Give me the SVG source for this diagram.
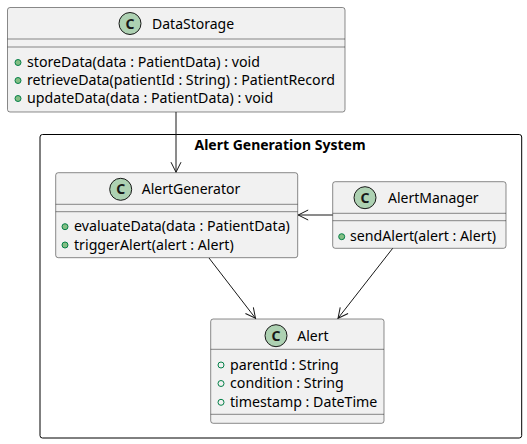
<svg xmlns="http://www.w3.org/2000/svg" width="527" height="444" viewBox="0 0 527 444">
<style>
.box{fill:#F1F1F1;stroke:#181818;stroke-width:0.5}
.sep{stroke:#181818;stroke-width:0.5}
.circ{fill:#ADD1B2;stroke:#181818;stroke-width:1}
.cl{font-family:"Noto Sans",sans-serif;font-size:14px;font-weight:bold;fill:#181818;text-anchor:middle}
.t{font-family:"Noto Sans",sans-serif;font-size:14px;fill:#000}
.m{font-family:"Noto Sans",sans-serif;font-size:14.2px;fill:#000}
.pub{fill:#84BE84;stroke:#038048;stroke-width:1}
.att{fill:none;stroke:#038048;stroke-width:1}
.pkg{fill:none;stroke:#000;stroke-width:1}
.pt{font-family:"Noto Sans",sans-serif;font-size:14px;font-weight:bold;fill:#000;text-anchor:middle}
.edge{stroke:#181818;stroke-width:1;fill:none}
</style>
<defs>
<marker id="arr" viewBox="0 0 12 12" refX="11" refY="6" markerWidth="12" markerHeight="12" markerUnits="userSpaceOnUse" orient="auto">
<polyline points="1,1 11,6 1,11" fill="none" stroke="#181818" stroke-width="1"/>
</marker>
</defs>
<rect width="527" height="444" fill="#FFFFFF"/>
<g id="pkg-alert-generation-system">
<rect class="pkg" x="40" y="134.5" width="481.7" height="303.5" rx="2.5"/>
<text class="pt" x="280" y="150">Alert Generation System</text>
</g>
<g id="node-datastorage">
<rect class="box" x="7.5" y="7.5" width="337.5" height="104.5" rx="2.5"/>
<line class="sep" x1="7.5" y1="39" x2="345" y2="39"/>
<line class="sep" x1="7.5" y1="47" x2="345" y2="47"/>
<circle class="circ" cx="130" cy="23.5" r="11"/>
<text class="cl" x="130" y="28.5">C</text>
<text class="t" x="152" y="28.5">DataStorage</text>
<circle class="pub" cx="18" cy="62.5" r="3"/>
<text class="m" x="27" y="67">storeData(data : PatientData) : void</text>
<circle class="pub" cx="18" cy="80.5" r="3"/>
<text class="m" x="27" y="85">retrieveData(patientId : String) : PatientRecord</text>
<circle class="pub" cx="18" cy="98.5" r="3"/>
<text class="m" x="27" y="103">updateData(data : PatientData) : void</text>
</g>
<g id="node-alertgenerator">
<rect class="box" x="55.7" y="172.7" width="242" height="85" rx="2.5"/>
<line class="sep" x1="55.7" y1="204.3" x2="297.7" y2="204.3"/>
<line class="sep" x1="55.7" y1="211.7" x2="297.7" y2="211.7"/>
<circle class="circ" cx="120.7" cy="189.3" r="11"/>
<text class="cl" x="120.7" y="194.3">C</text>
<text class="t" x="141.7" y="194.3">AlertGenerator</text>
<circle class="pub" cx="65" cy="226.7" r="3"/>
<text class="m" x="74" y="231.2">evaluateData(data : PatientData)</text>
<circle class="pub" cx="65" cy="245" r="3"/>
<text class="m" x="74" y="249.5">triggerAlert(alert : Alert)</text>
</g>
<g id="node-alertmanager">
<rect class="box" x="332.7" y="181.7" width="173.3" height="66.6" rx="2.5"/>
<line class="sep" x1="332.7" y1="213.3" x2="506" y2="213.3"/>
<line class="sep" x1="332.7" y1="220.7" x2="506" y2="220.7"/>
<circle class="circ" cx="365" cy="197.7" r="11"/>
<text class="cl" x="365" y="202.7">C</text>
<text class="t" x="388" y="202.7">AlertManager</text>
<circle class="pub" cx="341.7" cy="236.7" r="3"/>
<text class="m" x="350" y="241.2">sendAlert(alert : Alert)</text>
</g>
<g id="node-alert">
<rect class="box" x="210.7" y="319" width="173.3" height="104.3" rx="2.5"/>
<line class="sep" x1="210.7" y1="349.3" x2="384" y2="349.3"/>
<line class="sep" x1="210.7" y1="414.3" x2="384" y2="414.3"/>
<circle class="circ" cx="276" cy="335.7" r="11"/>
<text class="cl" x="276" y="340.7">C</text>
<text class="t" x="297.3" y="340.7">Alert</text>
<circle class="att" cx="221" cy="365" r="3"/>
<text class="m" x="230" y="369.5">parentId : String</text>
<circle class="att" cx="221" cy="383.5" r="3"/>
<text class="m" x="230" y="388">condition : String</text>
<circle class="att" cx="221" cy="402.3" r="3"/>
<text class="m" x="230" y="406.8">timestamp : DateTime</text>
</g>
<g id="connectors">
<line class="edge" x1="176" y1="112" x2="176" y2="172.2" marker-end="url(#arr)"/>
<line class="edge" x1="332.7" y1="215" x2="298.2" y2="215" marker-end="url(#arr)"/>
<line class="edge" x1="209" y1="258" x2="255.5" y2="318.3" marker-end="url(#arr)"/>
<line class="edge" x1="392.7" y1="248.3" x2="338" y2="318.3" marker-end="url(#arr)"/>
</g>
</svg>
